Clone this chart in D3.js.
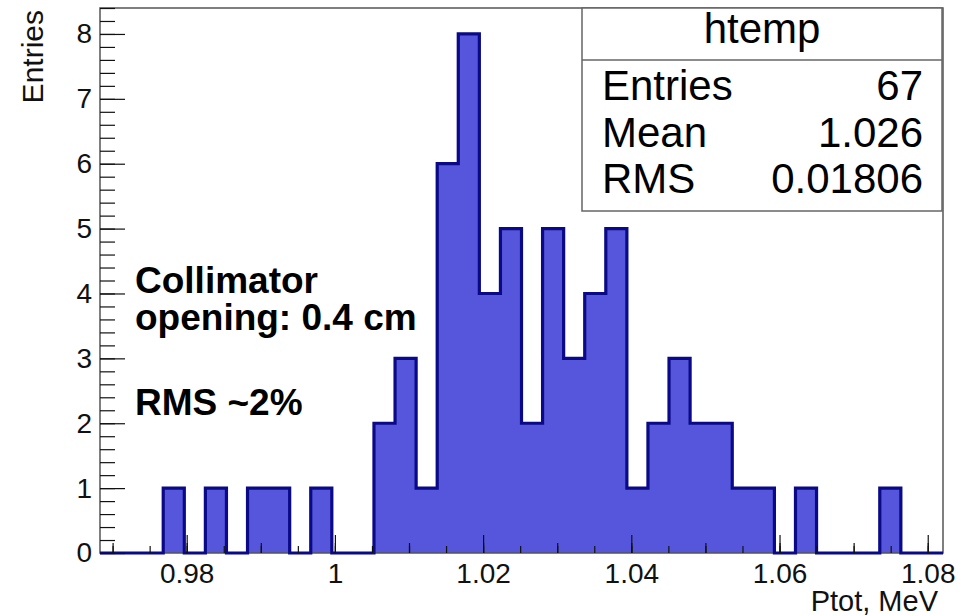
<!DOCTYPE html>
<html>
<head>
<meta charset="utf-8">
<script src="https://cdn.jsdelivr.net/npm/d3@7"></script>
<style>
  body { margin: 0; background: #fff; }
  text { font-family: "Liberation Sans", Arial, Helvetica, sans-serif; }
</style>
</head>
<body>
<div id="chart"></div>
<script>
// histogram binning (40 bins) and bin contents
var xMin = 0.9683,
    binWidth = 0.002844,
    binCounts = [0, 0, 0, 1, 0, 1, 0, 1, 1, 0,
                 1, 0, 0, 2, 3, 1, 6, 8, 4, 5,
                 2, 5, 3, 4, 5, 1, 2, 3, 2, 2,
                 1, 1, 0, 1, 0, 0, 0, 1, 0, 0];

var xTickValues = [0.98, 1.00, 1.02, 1.04, 1.06, 1.08],
    xTickLabels = ["0.98", "1", "1.02", "1.04", "1.06", "1.08"],
    yTickValues = [0, 1, 2, 3, 4, 5, 6, 7, 8];

var statNames = ["Entries", "Mean", "RMS"],
    statValues = ["67", "1.026", "0.01806"],
    statTitle = "htemp";

var noteLines = ["Collimator", "opening: 0.4 cm", "", "RMS ~2%"];

var width = 977, height = 616,
    frame = {left: 100, right: 943, top: 8, bottom: 553},
    xMax = xMin + binWidth * binCounts.length;

var svg = d3.select("#chart").append("svg")
    .attr("width", width)
    .attr("height", height);

var x = d3.scaleLinear().domain([xMin, xMax]).range([frame.left, frame.right]);
var y = d3.scaleLinear().domain([0, 8.4]).range([frame.bottom, frame.top]);

//
// histogram: filled steps plus the outline along the top
//
var steps = binCounts.map(function (c, i) { return [xMin + i * binWidth, c]; });
steps.push([xMax, binCounts[binCounts.length - 1]]);

svg.append("path")
    .datum(steps)
    .attr("fill", "#5656dc")
    .attr("d", d3.area()
        .curve(d3.curveStepAfter)
        .x(function (d) { return x(d[0]); })
        .y0(y(0))
        .y1(function (d) { return y(d[1]); }));

// frame
svg.append("rect")
    .attr("x", frame.left)
    .attr("y", frame.top)
    .attr("width", frame.right - frame.left)
    .attr("height", frame.bottom - frame.top)
    .attr("fill", "none")
    .attr("stroke", "#555")
    .attr("stroke-width", 1.5);

svg.append("path")
    .datum(steps)
    .attr("fill", "none")
    .attr("stroke", "#0a0a88")
    .attr("stroke-width", 3.2)
    .attr("d", d3.line()
        .curve(d3.curveStepAfter)
        .x(function (d) { return x(d[0]); })
        .y(function (d) { return y(d[1]); }));

//
// axes, ticks drawn inward like ROOT
//
var tickFont = 28;

var xAxisG = svg.append("g").attr("transform", "translate(0," + frame.bottom + ")");
xAxisG.append("g")
    .call(d3.axisBottom(x).tickValues(d3.range(0.97, 1.0821, 0.005)).tickSize(-7).tickFormat(""));
xAxisG.append("g")
    .call(d3.axisBottom(x).tickValues(d3.range(0.97, 1.0821, 0.01)).tickSize(-10).tickFormat(""));
xAxisG.append("g")
    .call(d3.axisBottom(x)
        .tickValues(xTickValues)
        .tickSize(-18)
        .tickPadding(10)
        .tickFormat(function (d, i) { return xTickLabels[i]; }));

var yAxisG = svg.append("g").attr("transform", "translate(" + frame.left + ",0)");
yAxisG.append("g")
    .call(d3.axisLeft(y).tickValues(d3.range(0, 8.41, 0.2)).tickSize(-15).tickFormat(""));
yAxisG.append("g")
    .call(d3.axisLeft(y)
        .tickValues(yTickValues)
        .tickSize(-25)
        .tickPadding(8)
        .tickFormat(d3.format("d")));

svg.selectAll(".domain").remove();
svg.selectAll(".tick line").attr("stroke", "#111").attr("stroke-width", 1.2);
svg.selectAll(".tick text")
    .attr("fill", "#111")
    .style("font-size", tickFont + "px")
    .style("font-family", "'Liberation Sans', Arial, sans-serif");

// axis titles
svg.append("text")
    .attr("x", 938)
    .attr("y", 611)
    .attr("text-anchor", "end")
    .style("font-size", "29px")
    .attr("fill", "#111")
    .text("Ptot, MeV");

svg.append("text")
    .attr("transform", "translate(43,10) rotate(-90)")
    .attr("text-anchor", "end")
    .style("font-size", "30px")
    .attr("fill", "#111")
    .text("Entries");

//
// stats box
//
var box = {x: 582, y: 8, w: 360, h: 203, sep: 60};
var stats = svg.append("g");
stats.append("rect")
    .attr("x", box.x).attr("y", box.y)
    .attr("width", box.w).attr("height", box.h)
    .attr("fill", "#fff")
    .attr("stroke", "#666")
    .attr("stroke-width", 1.5);
stats.append("line")
    .attr("x1", box.x).attr("x2", box.x + box.w)
    .attr("y1", box.sep).attr("y2", box.sep)
    .attr("stroke", "#666")
    .attr("stroke-width", 1.5);
stats.append("text")
    .attr("x", box.x + box.w / 2)
    .attr("y", 43)
    .attr("text-anchor", "middle")
    .style("font-size", "42px")
    .text(statTitle);

var rowY = [100, 147, 193];
stats.selectAll(".statName")
    .data(statNames)
    .enter().append("text")
    .attr("class", "statName")
    .attr("x", 602)
    .attr("y", function (d, i) { return rowY[i]; })
    .style("font-size", "42px")
    .text(function (d) { return d; });
stats.selectAll(".statValue")
    .data(statValues)
    .enter().append("text")
    .attr("class", "statValue")
    .attr("x", 923)
    .attr("y", function (d, i) { return rowY[i]; })
    .attr("text-anchor", "end")
    .style("font-size", "42px")
    .text(function (d) { return d; });

// annotation
var noteY = [293, 330, 372, 415];
svg.selectAll(".note")
    .data(noteLines)
    .enter().append("text")
    .attr("class", "note")
    .attr("x", 135)
    .attr("y", function (d, i) { return noteY[i]; })
    .style("font-size", "37px")
    .style("font-weight", "bold")
    .text(function (d) { return d; });
</script>
</body>
</html>
